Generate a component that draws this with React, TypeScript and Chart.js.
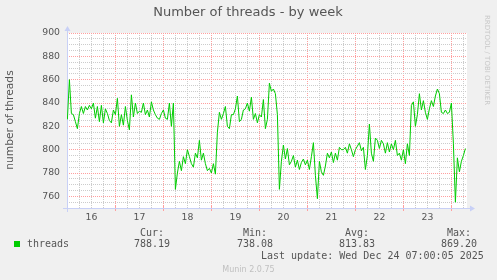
import React, { useEffect, useRef } from 'react';
import { Chart, registerables } from 'chart.js';
Chart.register(...registerables);

// Hours since Dec 16 00:00 (one value per hour), last one is Dec 24 07:00
const threads = [
  826, 860, 831, 830, 824, 818, 831, 837, 831, 837,
  834, 838, 835, 840, 827, 837, 824, 838, 823, 835,
  831, 825, 823, 834, 830, 844, 820, 830, 821, 837,
  825, 817, 847, 828, 840, 831, 833, 832, 840, 830,
  834, 828, 841, 834, 830, 827, 826, 831, 834, 827,
  826, 840, 820, 840, 766, 780, 790, 782, 794, 788,
  800, 794, 788, 785, 797, 793, 808, 791, 797, 788,
  782, 784, 780, 788, 779, 815, 832, 826, 831, 837,
  820, 818, 830, 830, 835, 846, 824, 826, 834, 835,
  840, 833, 845, 826, 831, 823, 830, 828, 843, 818,
  826, 857, 850, 852, 848, 830, 766, 790, 804, 792,
  801, 787, 790, 795, 785, 791, 783, 789, 792, 787,
  791, 783, 794, 806, 778, 758, 790, 781, 778, 786,
  797, 793, 798, 789, 797, 791, 802, 800, 800, 802,
  797, 805, 800, 794, 800, 803, 806, 799, 802, 783,
  795, 822, 797, 790, 810, 808, 801, 808, 805, 797,
  806, 798, 805, 800, 808, 795, 797, 791, 800, 788,
  805, 795, 838, 841, 820, 830, 848, 834, 842, 832,
  826, 835, 842, 837, 846, 852, 848, 832, 831, 834,
  831, 832, 840, 805, 755, 793, 781, 790, 795, 801,
];

const dayLabels = ['16', '17', '18', '19', '20', '21', '22', '23'];
const statNames = ['Cur:', 'Min:', 'Avg:', 'Max:'];
const statValues = ['788.19', '738.08', '813.83', '869.20'];
const seriesName = 'threads';
const titleText = 'Number of threads - by week';
const yTitle = 'number of threads';
const lastUpdate = 'Last update: Wed Dec 24 07:00:05 2025';
const footerText = 'Munin 2.0.75';
const watermark = 'RRDTOOL / TOBI OETIKER';

const SANS = '"DejaVu Sans", sans-serif';
const MONO = '"DejaVu Sans Mono", monospace';
const TEXT = '#555555';
const AXIS = '#c8d0f6';
const MAJOR = '#ff9f9f';
const MINOR = '#cccccc';

export default function App() {
  const ref = useRef<HTMLCanvasElement>(null);

  useEffect(() => {
    const canvas = ref.current;
    if (!canvas) return;

    const decor = {
      id: 'muninDecor',
      beforeDraw(chart: any) {
        const { ctx, chartArea: a } = chart;
        ctx.save();
        ctx.fillStyle = '#f0f0f0';
        ctx.fillRect(0, 0, chart.width, chart.height);
        ctx.fillStyle = '#ffffff';
        ctx.fillRect(a.left, a.top, a.right - a.left, a.bottom - a.top);
        ctx.restore();
      },
      beforeDatasetsDraw(chart: any) {
        const { ctx, chartArea: a, scales } = chart;
        ctx.save();
        // day tick marks below x axis
        ctx.strokeStyle = MAJOR;
        ctx.lineWidth = 1;
        scales.x.ticks.forEach((t: any) => {
          if (t.value % 24 === 0) {
            const px = Math.round(scales.x.getPixelForValue(t.value)) + 0.5;
            ctx.beginPath();
            ctx.moveTo(px, a.bottom - 2);
            ctx.lineTo(px, a.bottom + 3);
            ctx.stroke();
          }
        });
        ctx.strokeStyle = AXIS;
        ctx.fillStyle = AXIS;
        const yb = Math.round(a.bottom) + 0.5;
        const xl = Math.round(a.left) + 0.5;
        ctx.beginPath();
        ctx.moveTo(a.left - 4, yb);
        ctx.lineTo(a.right + 4, yb);
        ctx.stroke();
        ctx.beginPath();
        ctx.moveTo(a.right + 3, yb - 3);
        ctx.lineTo(a.right + 8, yb);
        ctx.lineTo(a.right + 3, yb + 3);
        ctx.closePath();
        ctx.fill();
        ctx.beginPath();
        ctx.moveTo(xl, a.bottom + 4);
        ctx.lineTo(xl, a.top - 3);
        ctx.stroke();
        ctx.beginPath();
        ctx.moveTo(xl - 3, a.top - 2);
        ctx.lineTo(xl, a.top - 7);
        ctx.lineTo(xl + 3, a.top - 2);
        ctx.closePath();
        ctx.fill();
        ctx.restore();
      },
      afterDraw(chart: any) {
        const { ctx } = chart;
        ctx.save();
        ctx.fillStyle = TEXT;
        ctx.textBaseline = 'middle';
        ctx.textAlign = 'center';
        ctx.font = `13px ${SANS}`;
        ctx.fillText(titleText, 248, 13);

        ctx.save();
        ctx.translate(10, 120);
        ctx.rotate(-Math.PI / 2);
        ctx.font = `10.7px ${SANS}`;
        ctx.fillText(yTitle, 0, 0);
        ctx.restore();

        // legend
        ctx.fillStyle = '#00cc00';
        ctx.fillRect(14, 241, 6, 6);
        ctx.fillStyle = TEXT;
        ctx.textAlign = 'left';
        ctx.font = `10px ${MONO}`;
        ctx.fillText(seriesName, 27, 244.5);
        const nameX = [140, 243, 345, 447];
        const valX = [134, 237, 339, 441];
        statNames.forEach((n, i) => ctx.fillText(n, nameX[i], 233));
        statValues.forEach((v, i) => ctx.fillText(v, valX[i], 244.5));
        ctx.fillText(lastUpdate, 261, 256.5);

        ctx.textAlign = 'center';
        ctx.fillStyle = '#c0c0c0';
        ctx.font = `8px ${SANS}`;
        ctx.fillText(footerText, 248.5, 269.5);

        ctx.save();
        ctx.translate(487, 15);
        ctx.rotate(Math.PI / 2);
        ctx.textAlign = 'left';
        ctx.fillStyle = '#c8c8c8';
        ctx.font = `7px ${SANS}`;
        ctx.fillText(watermark, 0, 0);
        ctx.restore();
        ctx.restore();
      },
    };

    const chart = new Chart(canvas, {
      type: 'line',
      data: {
        datasets: [
          {
            label: seriesName,
            data: threads.map((v, i) => ({ x: i, y: v })),
            borderColor: '#00cc00',
            borderWidth: 1,
            pointRadius: 0,
            tension: 0,
            fill: false,
          },
        ],
      },
      options: {
        animation: false,
        responsive: false,
        events: [],
        layout: { padding: { left: 0, top: 33, right: 30, bottom: 0 } },
        plugins: { legend: { display: false }, title: { display: false }, tooltip: { enabled: false } },
        scales: {
          x: {
            type: 'linear',
            min: -0.2,
            max: 199.8,
            afterFit: (s: any) => { s.height = 72; },
            border: { display: false, dash: [1, 1] },
            grid: {
              drawTicks: false,
              lineWidth: 1,
              color: (c: any) => (c.tick && c.tick.value % 24 === 0 ? MAJOR : MINOR),
            },
            ticks: {
              stepSize: 6,
              includeBounds: false,
              autoSkip: false,
              maxRotation: 0,
              padding: 4,
              color: TEXT,
              font: { family: SANS, size: 9.3 },
              callback: (v: any) => {
                const n = Number(v);
                return n % 24 === 12 ? dayLabels[(n - 12) / 24] : '';
              },
            },
          },
          y: {
            min: 750,
            max: 900,
            afterFit: (s: any) => { s.width = 67; },
            border: { display: false, dash: [1, 1] },
            grid: {
              drawTicks: false,
              lineWidth: 1,
              color: (c: any) => (c.tick && c.tick.value % 20 === 0 ? MAJOR : MINOR),
            },
            ticks: {
              stepSize: 5,
              autoSkip: false,
              padding: 7,
              color: TEXT,
              font: { family: SANS, size: 9.3 },
              callback: (v: any) => (Number(v) % 20 === 0 ? String(v) : ''),
            },
          },
        },
      },
      plugins: [decor],
    });
    return () => chart.destroy();
  }, []);

  return (
    <div style={{ position: 'absolute', left: 0, top: 0, width: 497, height: 280, background: '#f0f0f0' }}>
      <canvas ref={ref} width={497} height={280} style={{ display: 'block', width: 497, height: 280 }} />
    </div>
  );
}
